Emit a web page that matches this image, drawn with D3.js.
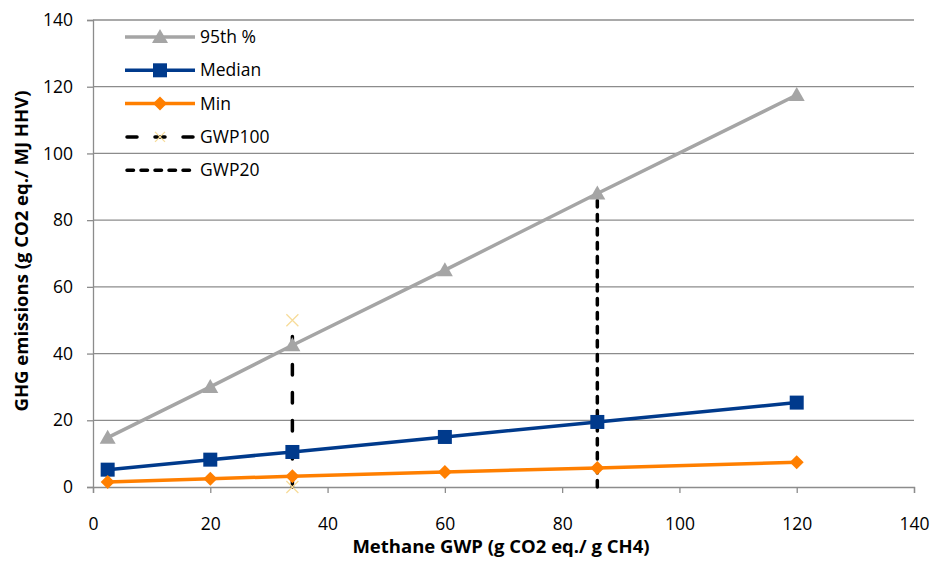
<!DOCTYPE html>
<html><head><meta charset="utf-8">
<script src="https://cdn.jsdelivr.net/npm/d3@7/dist/d3.min.js"></script>
<style>body{margin:0;background:#fff;} text{font-family:"Open Sans","Liberation Sans",sans-serif;}</style>
</head><body>
<svg id="c" width="932" height="562"></svg>
<script>
const gwpX = [2.5, 20, 34, 60, 86, 120];
const p95 = [14.8, 30, 42.5, 65, 88, 117.5];
const median = [5.2, 8.2, 10.5, 15, 19.5, 25.3];
const minV = [1.5, 2.5, 3.2, 4.5, 5.7, 7.4];
const gwp100X = [34, 34];
const gwp100Y = [0, 50];
const gwp20X = [86, 86];
const gwp20Y = [0, 88];
const xTicks = [0, 20, 40, 60, 80, 100, 120, 140];
const yTicks = [0, 20, 40, 60, 80, 100, 120, 140];

const svg = d3.select("#c");
const x = d3.scaleLinear().domain([0, 140]).range([93, 914]);
const y = d3.scaleLinear().domain([0, 140]).range([487, 20]);
const gridC = "#8c8c8c";
const FS = 17.5;

// gridlines
svg.append("g").selectAll("line").data(yTicks.filter(d => d > 0)).join("line")
  .attr("x1", x(0)).attr("x2", x(140)).attr("y1", d => y(d)).attr("y2", d => y(d))
  .attr("stroke", gridC).attr("stroke-width", 1.3);

// axes
const yAxis = svg.append("g").attr("transform", `translate(${x(0)},0)`)
  .call(d3.axisLeft(y).tickValues(yTicks).tickSize(6).tickPadding(14));
const xAxis = svg.append("g").attr("transform", `translate(0,${y(0)})`)
  .call(d3.axisBottom(x).tickValues(xTicks).tickSize(6).tickPadding(25));
[yAxis, xAxis].forEach(a => {
  a.select(".domain").attr("stroke", gridC).attr("stroke-width", 1.3);
  a.selectAll(".tick line").attr("stroke", gridC).attr("stroke-width", 1.3);
  a.selectAll(".tick text").attr("font-size", FS).attr("fill", "#000")
   .style("font-family", '"Open Sans","Liberation Sans",sans-serif');
});

const line = d3.line().x(d => x(d[0])).y(d => y(d[1]));

// GWP lines
const g100 = gwp100X.map((v, i) => [v, gwp100Y[i]]);
const g20 = gwp20X.map((v, i) => [v, gwp20Y[i]]);
svg.append("path").datum(g100).attr("d", line).attr("fill", "none")
  .attr("stroke", "#000").attr("stroke-width", 3.5).attr("stroke-linecap", "round")
  .attr("stroke-dasharray", "10.5,17.5");
svg.append("path").datum(g20).attr("d", line).attr("fill", "none")
  .attr("stroke", "#000").attr("stroke-width", 3.5).attr("stroke-linecap", "round")
  .attr("stroke-dasharray", "6.5,7.5");
// x markers
function xMark(g, cx, cy, s) {
  g.append("path").attr("d", `M${cx - s},${cy - s}L${cx + s},${cy + s}M${cx - s},${cy + s}L${cx + s},${cy - s}`)
    .attr("stroke", "#f7dc9a").attr("stroke-width", 1.3).attr("fill", "none");
}
g100.forEach(d => xMark(svg, x(d[0]), y(d[1]), 6));

const series = [
  { name: "95th %", vals: p95, color: "#a5a5a5", shape: "tri" },
  { name: "Median", vals: median, color: "#003a8c", shape: "sq" },
  { name: "Min", vals: minV, color: "#ff7f00", shape: "dia" }
];
function marker(g, shape, cx, cy, color) {
  if (shape === "tri") g.append("path").attr("d", `M${cx},${cy - 8}L${cx + 8},${cy + 6}L${cx - 8},${cy + 6}Z`).attr("fill", color);
  else if (shape === "sq") g.append("rect").attr("x", cx - 7).attr("y", cy - 7).attr("width", 14).attr("height", 14).attr("fill", color);
  else g.append("path").attr("d", `M${cx},${cy - 7}L${cx + 7},${cy}L${cx},${cy + 7}L${cx - 7},${cy}Z`).attr("fill", color);
}
series.forEach(s => {
  const pts = gwpX.map((v, i) => [v, s.vals[i]]);
  svg.append("path").datum(pts).attr("d", line).attr("fill", "none")
    .attr("stroke", s.color).attr("stroke-width", 3.5);
  pts.forEach(p => marker(svg, s.shape, x(p[0]), y(p[1]), s.color));
});

// legend
const leg = svg.append("g");
const legItems = [
  { name: "95th %", type: "s", s: series[0] },
  { name: "Median", type: "s", s: series[1] },
  { name: "Min", type: "s", s: series[2] },
  { name: "GWP100", type: "d100" },
  { name: "GWP20", type: "d20" }
];
legItems.forEach((it, i) => {
  const ly = 37 + i * 33.3;
  if (it.type === "s") {
    leg.append("line").attr("x1", 125).attr("x2", 195).attr("y1", ly).attr("y2", ly)
      .attr("stroke", it.s.color).attr("stroke-width", 3.5);
    marker(leg, it.s.shape, 160, ly, it.s.color);
  } else if (it.type === "d100") {
    leg.append("line").attr("x1", 127).attr("x2", 195).attr("y1", ly).attr("y2", ly)
      .attr("stroke", "#000").attr("stroke-width", 3.5).attr("stroke-linecap", "round")
      .attr("stroke-dasharray", "10,18");
    xMark(leg, 160, ly, 5);
  } else {
    leg.append("line").attr("x1", 127).attr("x2", 195).attr("y1", ly).attr("y2", ly)
      .attr("stroke", "#000").attr("stroke-width", 3.5).attr("stroke-linecap", "round")
      .attr("stroke-dasharray", "6.5,7.5");
  }
  leg.append("text").attr("x", 200).attr("y", ly).attr("dy", "0.35em")
    .attr("font-size", FS).text(it.name);
});

// axis titles
svg.append("text").attr("x", 501).attr("y", 553).attr("text-anchor", "middle")
  .attr("font-size", 18.5).attr("font-weight", "bold").text("Methane GWP (g CO2 eq./ g CH4)");
svg.append("text").attr("transform", `translate(28,251) rotate(-90)`).attr("text-anchor", "middle")
  .attr("font-size", 18.5).attr("font-weight", "bold").text("GHG emissions (g CO2 eq./ MJ HHV)");
</script>
</body></html>
